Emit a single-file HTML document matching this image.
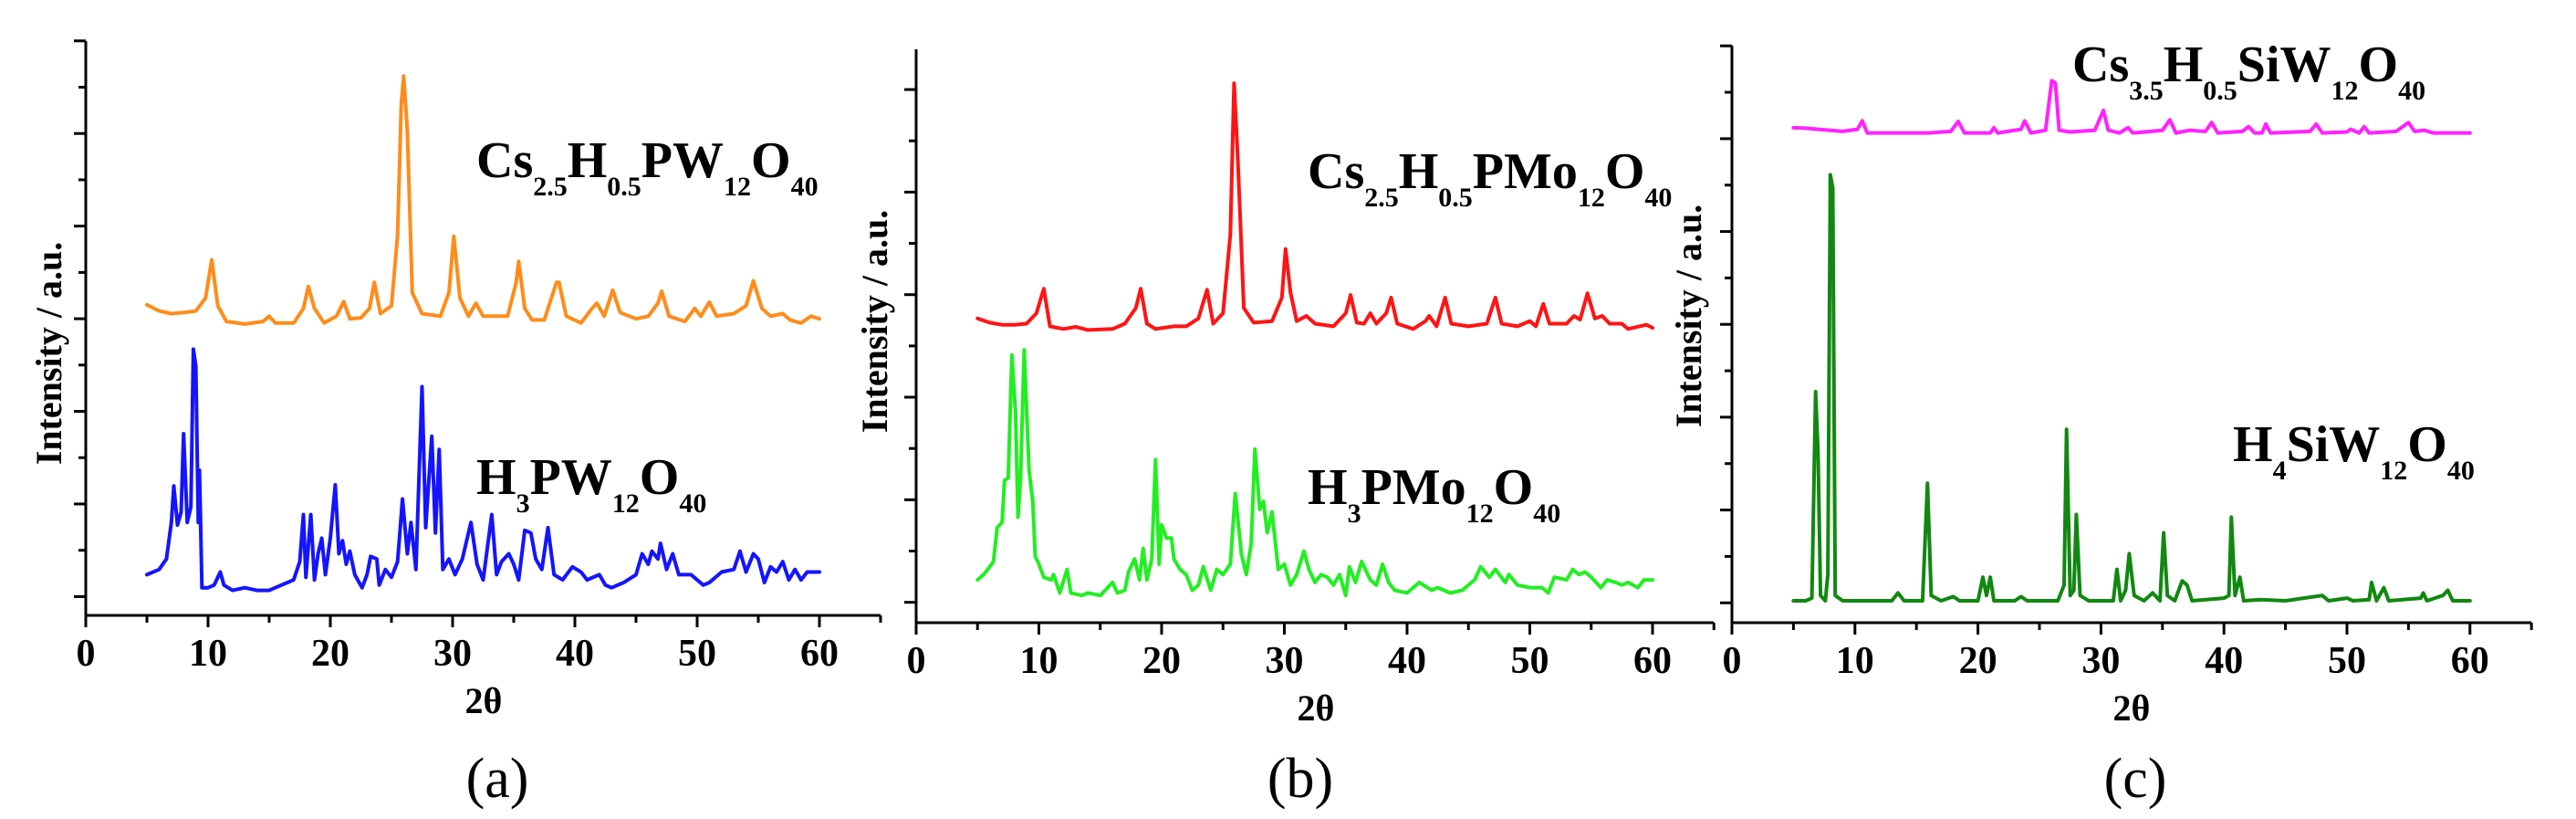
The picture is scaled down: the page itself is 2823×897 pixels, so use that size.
<!DOCTYPE html>
<html><head><meta charset="utf-8"><style>
html,body{margin:0;padding:0;background:#fff;}
svg{display:block;font-family:"Liberation Serif",serif;}
.tk{font-size:42px;font-weight:bold;font-family:"Liberation Serif",serif;}
.tt{font-size:40px;font-weight:bold;font-family:"Liberation Serif",serif;}
.lb{font-size:56px;font-weight:bold;font-family:"Liberation Serif",serif;}
.lb .s{font-size:30px;}
.cap{font-size:62px;font-family:"Liberation Serif",serif;}
</style></head><body>
<svg id="fig" width="2823" height="897" viewBox="0 0 2823 897" xmlns="http://www.w3.org/2000/svg">
<g id="pa"></g>
<g id="pb"></g>
<g id="pc"></g>
<g>
<text class="lb" x="522" y="194">Cs<tspan class="s" dy="20">2.5</tspan><tspan dy="-20">H</tspan><tspan class="s" dy="20">0.5</tspan><tspan dy="-20">PW</tspan><tspan class="s" dy="20">12</tspan><tspan dy="-20">O</tspan><tspan class="s" dy="20">40</tspan></text>
<text class="lb" x="522" y="541">H<tspan class="s" dy="20">3</tspan><tspan dy="-20">PW</tspan><tspan class="s" dy="20">12</tspan><tspan dy="-20">O</tspan><tspan class="s" dy="20">40</tspan></text>
<text class="lb" x="1433" y="206">Cs<tspan class="s" dy="20">2.5</tspan><tspan dy="-20">H</tspan><tspan class="s" dy="20">0.5</tspan><tspan dy="-20">PMo</tspan><tspan class="s" dy="20">12</tspan><tspan dy="-20">O</tspan><tspan class="s" dy="20">40</tspan></text>
<text class="lb" x="1433" y="552">H<tspan class="s" dy="20">3</tspan><tspan dy="-20">PMo</tspan><tspan class="s" dy="20">12</tspan><tspan dy="-20">O</tspan><tspan class="s" dy="20">40</tspan></text>
<text class="lb" x="2271" y="89">Cs<tspan class="s" dy="20">3.5</tspan><tspan dy="-20">H</tspan><tspan class="s" dy="20">0.5</tspan><tspan dy="-20">SiW</tspan><tspan class="s" dy="20">12</tspan><tspan dy="-20">O</tspan><tspan class="s" dy="20">40</tspan></text>
<text class="lb" x="2447" y="505">H<tspan class="s" dy="20">4</tspan><tspan dy="-20">SiW</tspan><tspan class="s" dy="20">12</tspan><tspan dy="-20">O</tspan><tspan class="s" dy="20">40</tspan></text>
</g>
</svg>
<script>
// ---------- Panel (a) data ----------
const aTopX=[5,6,7,8,9,9.8,10.3,10.8,11.5,13,14.5,15,15.5,17,17.8,18.2,18.7,19.5,20.5,21.1,21.6,22.5,23.2,23.6,24.1,25,25.5,25.8,26,26.3,26.7,27.5,29,29.7,30.1,30.6,31.3,31.9,32.5,34.5,35.2,35.4,35.9,36.5,37.5,38.5,38.7,39.3,40.5,41.4,41.8,42.4,43.1,43.7,45,46,46.8,47.1,47.7,49,49.8,50.3,51,51.6,53,54,54.6,55.3,56,57,57.6,58.5,59.3,60];
const aTopY=[595,583,578,580,583,608,681,593,563,558,563,573,560,560,588,630,588,560,573,601,568,570,588,638,578,593,728,978,1033,928,618,578,573,618,726,608,573,598,573,573,638,678,588,566,566,638,638,573,560,588,598,573,623,580,568,573,598,621,573,563,588,573,600,573,578,593,641,588,573,578,566,560,573,568];
const aBotX=[5,6,6.6,7,7.2,7.5,7.8,8,8.3,8.6,8.8,9,9.2,9.3,9.5,10,10.5,11,11.3,12,13,14,15,16,16.5,17,17.5,17.8,18,18.4,18.7,19,19.3,19.6,20,20.4,20.7,21,21.3,21.6,22,22.6,23,23.3,23.8,24,24.5,25,25.5,25.9,26.3,26.6,27,27.5,27.8,28.3,28.6,28.9,29.2,29.7,30.2,30.8,31.5,32,32.5,33.2,33.6,34,34.6,35,35.4,35.9,36.4,36.8,37.3,37.8,38.3,39,39.8,40.5,41,42,42.5,43,44,45,45.5,46,46.3,46.8,47,47.5,48,48.5,49.5,50,50.5,51,52,53,53.5,54,54.6,55,55.5,56,56.5,57,57.5,58,58.5,59,60];
const aBotY=[78,88,108,178,248,173,198,348,178,208,510,478,178,278,53,53,58,83,58,48,53,48,48,58,63,68,103,193,73,193,68,118,148,78,148,250,118,143,98,123,78,53,78,113,108,58,88,73,103,223,118,178,88,438,168,343,158,318,88,108,78,108,178,98,68,193,78,103,118,98,68,163,158,108,88,168,78,68,93,83,68,78,58,53,63,78,118,98,123,108,138,88,118,78,78,68,58,63,83,88,123,83,118,108,63,93,83,103,68,88,68,83,83];
// ---------- Panel (b) data ----------
const bTopX=[5,6,7,8,9,9.8,10.4,10.9,12,13,14,16,17,17.9,18.3,18.8,19.5,21,22,23,23.7,24.2,25,25.6,25.9,26.2,26.7,27.5,29,29.8,30.1,30.5,31,31.8,32.5,34,35,35.4,35.9,36.5,37,37.5,38.3,38.7,39.2,40.5,41.5,41.8,42.4,43.1,43.6,45,46.5,47.2,47.7,49,50,50.5,51.1,51.6,53,53.6,54.1,54.7,55.3,55.9,56.5,57.5,58,59.5,60];
const bTopY=[582,574,570,570,572,592,639,567,562,566,560,562,572,602,639,572,562,567,567,582,637,572,592,742,1032,892,602,574,577,622,715,632,577,587,572,567,592,627,574,572,592,572,592,622,572,562,577,587,567,622,572,567,572,622,572,567,577,567,610,572,572,587,580,630,582,587,572,572,562,570,564];
const bBotX=[5,5.5,6,6.3,6.6,7,7.2,7.5,7.8,8.1,8.3,8.5,8.8,9.2,9.5,9.7,10,10.4,11,11.2,11.7,12.3,12.6,13.5,14,15,16,16.4,17,17.3,17.8,18.2,18.5,18.8,19.2,19.5,19.8,20,20.4,20.8,21,21.5,22,22.5,23,23.4,24,24.5,25,25.6,26,26.5,26.9,27.3,27.6,28,28.3,28.6,29,29.5,30,30.5,31,31.6,32,32.5,33,33.5,34,34.5,35,35.3,35.8,36.3,37,37.5,38,38.5,39,40,41,42,42.5,43.5,44.5,45.5,46,46.7,47.2,48,48.3,49,50,51,51.5,52,53,53.5,54,54.5,55,55.8,56.3,57,57.5,58,58.8,59.3,60];
const bBotY=[82,92,107,117,182,192,272,277,512,402,202,272,522,292,232,127,112,87,82,92,57,102,57,52,57,52,77,57,62,97,122,82,142,82,122,312,112,187,162,162,122,102,92,62,72,107,62,102,92,112,247,132,92,152,332,217,232,172,212,102,112,72,92,137,102,77,92,87,72,92,52,107,77,117,82,72,112,77,62,57,77,62,67,57,62,82,107,87,102,77,92,72,67,67,57,87,82,102,92,97,87,67,82,77,72,77,67,82,82];
// ---------- Panel (c) data ----------
const cTopX=[5,6,7,8,9,10.2,10.6,11,13,16,17.8,18.4,18.9,21,21.3,21.6,23.5,23.8,24.3,25.5,26,26.3,26.6,27.5,29.5,30.2,30.6,31.5,32.2,32.6,35,35.6,36.1,37.2,38.5,39,39.5,41.5,42,42.5,43.1,43.4,43.8,47,47.5,48,50,50.3,51,51.4,51.8,54,55,55.5,56.3,57,60];
const cTopY=[947,946,944,942,940,944,960,937,937,937,940,959,937,937,947,937,944,960,937,942,1037,1032,942,939,942,980,942,937,947,937,942,962,937,942,940,957,937,940,949,937,937,954,937,940,954,937,939,944,937,949,937,940,957,940,942,937,937];
const cBotX=[5,6,6.5,6.8,7,7.2,7.6,7.8,8,8.2,8.4,9,11,13,13.5,14,15.5,15.9,16.2,17,18,18.5,20,20.4,20.7,21,21.3,23,23.5,24,26.5,27,27.2,27.5,27.8,28,28.3,29,31,31.3,31.6,32,32.3,32.7,33.5,34.2,34.8,35.1,35.4,36,36.6,37,37.4,40,40.4,40.6,40.9,41.3,41.6,43,45,48,48.5,50,50.5,51.8,52,52.4,53,53.4,56,56.2,56.5,57.8,58.2,58.6,60];
const cBotY=[42,42,47,442,322,52,42,92,857,832,52,42,42,42,57,42,42,267,52,42,50,42,42,87,52,87,42,42,50,42,42,72,370,52,62,207,52,42,42,102,42,62,132,52,42,57,42,172,52,42,80,72,42,47,52,202,52,87,42,44,42,52,42,47,42,44,77,42,67,42,47,57,42,52,62,42,42];
const xTickLabels=["0","10","20","30","40","50","60"];

const NS="http://www.w3.org/2000/svg";
function mk(tag,attrs,parent){const e=document.createElementNS(NS,tag);for(const k in attrs)e.setAttribute(k,attrs[k]);parent.appendChild(e);return e;}

function panel(g,cfg){
  const sx=v=>cfg.x0+v*cfg.kx;
  const sy=v=>cfg.yb-(v/cfg.dmax)*(cfg.yb-cfg.yt);
  cfg.series.forEach(s=>{
    let d="";
    s.x.forEach((xv,i)=>{d+=(i?"L":"M")+sx(xv).toFixed(1)+","+sy(s.y[i]).toFixed(1);});
    const p=mk("path",{d:d,fill:"none",stroke:s.color,"stroke-width":4,"stroke-linejoin":"round","stroke-linecap":"round"},g);
    
    
  });
  const ya=mk("line",{x1:cfg.x0,y1:cfg.yb,x2:cfg.x0,y2:cfg.yt,stroke:"#000","stroke-width":3},g);
  
  
  const xa=mk("line",{x1:cfg.x0-1.5,y1:cfg.yb,x2:sx(65),y2:cfg.yb,stroke:"#000","stroke-width":3},g);
  
  
  for(let v=0;v<=65;v+=5){
    const maj=v%10===0;
    const t=mk("line",{x1:sx(v),y1:cfg.yb,x2:sx(v),y2:cfg.yb+(maj?13:8),stroke:"#000","stroke-width":3},g);
    
    
  }
  xTickLabels.forEach((lab,i)=>{
    const t=mk("text",{x:sx(i*10),y:cfg.yb+55,"text-anchor":"middle",class:"tk"},g);
    t.textContent=lab;
    
    
  });
  for(let i=0;i<cfg.nt;i++){
    const v=cfg.t0+i*cfg.ts;
    const maj=i%2===0;
    const t=mk("line",{x1:cfg.x0,y1:sy(v),x2:cfg.x0-(maj?13:8),y2:sy(v),stroke:"#000","stroke-width":3},g);
    
    
  }
  const xt=mk("text",{x:cfg.xtX,y:cfg.yb+107,"text-anchor":"middle",class:"tt"},g);
  xt.textContent="2θ";
  
  
  const yt=mk("text",{x:0,y:0,"text-anchor":"middle",class:"tt",transform:"translate("+(cfg.ytX+14)+","+cfg.ytY+") rotate(-90)"},g);
  yt.textContent="Intensity / a.u.";
  
  
  const cp=mk("text",{x:cfg.capX,y:873,"text-anchor":"middle",class:"cap"},g);
  cp.textContent=cfg.cap;
  
  
}

panel(document.getElementById("pa"),{x0:94,kx:13.4,yb:674,yt:45,dmax:1100,nt:13,t0:36,ts:88.7,xtX:530,ytX:53,ytY:387,capX:545,cap:"(a)",
  series:[{x:aTopX,y:aTopY,color:"#ff8c1a",name:"series-cs-pw"},{x:aBotX,y:aBotY,color:"#1414ff",name:"series-h3pw"}]});
panel(document.getElementById("pb"),{x0:1004,kx:13.45,yb:682,yt:54,dmax:1097,nt:11,t0:39,ts:98.1,xtX:1442,ytX:958,ytY:352,capX:1425,cap:"(b)",
  series:[{x:bTopX,y:bTopY,color:"#ff1414",name:"series-cs-pmo"},{x:bBotX,y:bBotY,color:"#22ee22",name:"series-h3pmo"}]});
panel(document.getElementById("pc"),{x0:1898,kx:13.48,yb:682,yt:50,dmax:1104,nt:13,t0:38,ts:88.8,xtX:2336,ytX:1850,ytY:346,capX:2340,cap:"(c)",
  series:[{x:cTopX,y:cTopY,color:"#ff22ff",name:"series-cs-siw"},{x:cBotX,y:cBotY,color:"#118811",name:"series-h4siw"}]});
</script>
</body></html>
